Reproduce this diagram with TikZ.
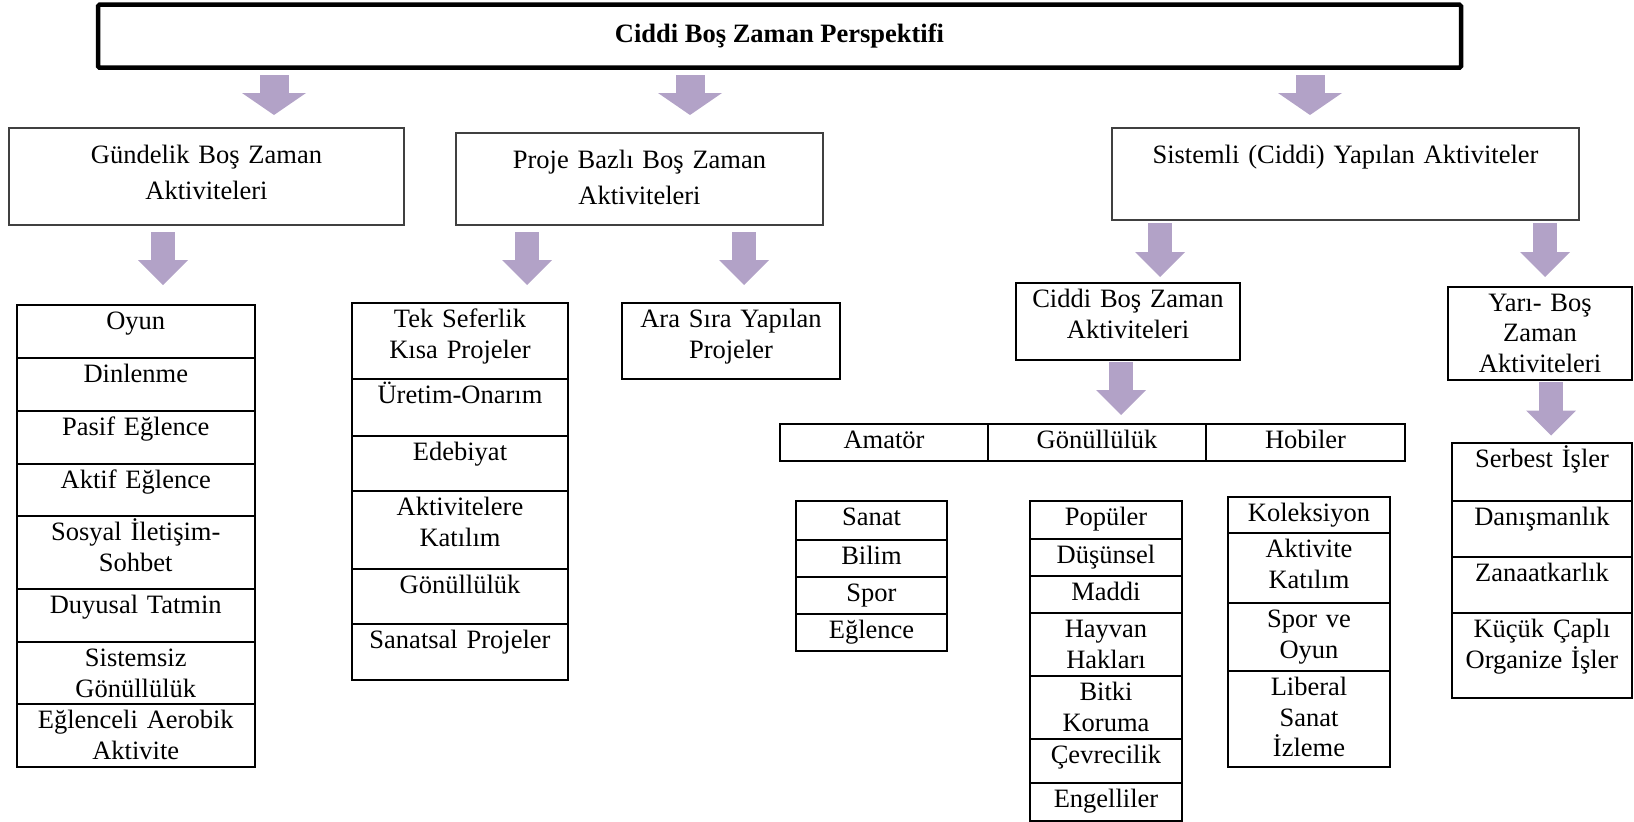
\documentclass[tikz,border=0pt]{standalone}
\usepackage{fontspec}
\setmainfont{Liberation Serif}
\usetikzlibrary{arrows.meta,positioning}
\usepackage{xcolor}
\definecolor{okmor}{RGB}{178,162,199}

\begin{document}
\begin{tikzpicture}[x=1pt, y=-1pt,
        font=\fontsize{26.5}{30.5}\selectfont,
    % ana baslik kutusu
        baslik/.style={rectangle, draw, line width=4.5pt, rounded corners=1.5pt, minimum width=1363pt, minimum height=63pt, anchor=north west, outer sep=0pt, font=\fontsize{26.5}{30.5}\selectfont\bfseries},
    % ikinci seviye kutular (#1 = kutu yuksekligi)
        box/.style={rectangle, draw=black!75, line width=1.2pt, align=center, inner sep=3pt, outer sep=0pt, text height=32pt, text depth={#1-38pt}, anchor=north west, font=\fontsize{26.5}{36}\selectfont},
    % tablo hucreleri (#1 = hucre yuksekligi)
        cell/.style={rectangle, draw, line width=2pt, align=center, inner sep=3pt, outer sep=0pt, text height=21.5pt, text depth={#1-27.5pt}},
    % blok oklar
        bigok/.style={color=okmor, line width=29pt, -{Triangle[length=22pt, width=64pt, line width=0pt]}},
        blokok/.style={color=okmor, line width=24pt, -{Triangle[length=25pt, width=50pt, line width=0pt]}}
    ]
    \useasboundingbox (0,0) rectangle (1634,822);

    % --- UST ---
    \node[baslik] (ana) at (98,4.7) {Ciddi Boş Zaman Perspektifi};

    % --- IKINCI SEVIYE ---
    \node[box=97pt, text width=389pt] (gundelik) at (9,128) {Gündelik Boş Zaman\\Aktiviteleri};
    \node[box=92pt, text width=361pt] (proje) at (456,133) {Proje Bazlı Boş Zaman\\Aktiviteleri};
    \node[box=92pt, text width=461pt] (sistemli) at (1112,128) {Sistemli (Ciddi) Yapılan Aktiviteler};

    \draw[bigok] ([shift={(-505.5,7.3)}]ana.south) -- ++(0,40);
    \draw[bigok] ([shift={(-89.5,7.3)}]ana.south) -- ++(0,40);
    \draw[bigok] ([shift={(530.5,7.3)}]ana.south) -- ++(0,40);

    % --- GUNDELIK LISTESI ---
    \begin{scope}[every node/.append style={text width=231.5pt}]
        \node[cell=53pt, anchor=north west] (g1) at (17,305) {Oyun};
        \node[cell=53pt, below=0pt of g1] (g2) {Dinlenme};
        \node[cell=53pt, below=0pt of g2] (g3) {Pasif Eğlence};
        \node[cell=52pt, below=0pt of g3] (g4) {Aktif Eğlence};
        \node[cell=73pt, below=0pt of g4] (g5) {Sosyal İletişim-\\Sohbet};
        \node[cell=53pt, below=0pt of g5] (g6) {Duyusal Tatmin};
        \node[cell=62pt, below=0pt of g6] (g7) {Sistemsiz\\Gönüllülük};
        \node[cell=63pt, below=0pt of g7] (g8) {Eğlenceli Aerobik\\Aktivite};
    \end{scope}
    \draw[blokok] ([shift={(-43.5,7)}]gundelik.south) -- ++(0,53);

    % --- PROJE LISTESI ---
    \begin{scope}[every node/.append style={text width=210pt}]
        \node[cell=76pt, anchor=north west] (p1) at (352,303) {Tek Seferlik\\Kısa Projeler};
        \node[cell=57pt, below=0pt of p1] (p2) {Üretim-Onarım};
        \node[cell=55pt, below=0pt of p2] (p3) {Edebiyat};
        \node[cell=78pt, below=0pt of p3] (p4) {Aktivitelere\\Katılım};
        \node[cell=55pt, below=0pt of p4] (p5) {Gönüllülük};
        \node[cell=56pt, below=0pt of p5] (p6) {Sanatsal Projeler};
    \end{scope}
    \node[cell=75.5pt, text width=212pt, anchor=north west] (arasira) at (622,303) {Ara Sıra Yapılan\\Projeler};
    \draw[blokok] ([shift={(-112.5,7)}]proje.south) -- ++(0,53);
    \draw[blokok] ([shift={(104.5,7)}]proje.south) -- ++(0,53);

    % --- SISTEMLI ---
    \node[cell=77pt, text width=218pt, anchor=north west] (ciddi) at (1016,283) {Ciddi Boş Zaman\\Aktiviteleri};
    \node[cell=93.5pt, text width=178pt, anchor=north west] (yari) at (1448,286.5) {Yarı- Boş\\Zaman\\Aktiviteleri};
    \draw[blokok] ([shift={(-185.5,3)}]sistemli.south) -- ++(0,54);
    \draw[blokok] ([shift={(199.5,3)}]sistemli.south) -- ++(0,54);

    \node[cell=37pt, text width=202pt, anchor=north west] (amator) at (780,424) {Amatör};
    \node[cell=37pt, text width=212pt, right=0pt of amator] (gonullu) {Gönüllülük};
    \node[cell=37pt, text width=193pt, right=0pt of gonullu] (hobi) {Hobiler};
    \draw[blokok] ([shift={(-7,2)}]ciddi.south) -- ++(0,53);

    \begin{scope}[every node/.append style={text width=145pt}]
        \node[cell=39pt, anchor=north west] (a1) at (796,501) {Sanat};
        \node[cell=37pt, below=0pt of a1] (a2) {Bilim};
        \node[cell=37pt, below=0pt of a2] (a3) {Spor};
        \node[cell=37pt, below=0pt of a3] (a4) {Eğlence};
    \end{scope}

    \begin{scope}[every node/.append style={text width=146pt}]
        \node[cell=38pt, anchor=north west] (v1) at (1030,501) {Popüler};
        \node[cell=37pt, below=0pt of v1] (v2) {Düşünsel};
        \node[cell=37pt, below=0pt of v2] (v3) {Maddi};
        \node[cell=63pt, below=0pt of v3] (v4) {Hayvan\\Hakları};
        \node[cell=63pt, below=0pt of v4] (v5) {Bitki\\Koruma};
        \node[cell=44pt, below=0pt of v5] (v6) {Çevrecilik};
        \node[cell=38pt, below=0pt of v6] (v7) {Engelliler};
    \end{scope}

    \begin{scope}[every node/.append style={text width=156pt}]
        \node[cell=36pt, anchor=north west] (h1) at (1228,497) {Koleksiyon};
        \node[cell=70pt, below=0pt of h1] (h2) {Aktivite\\Katılım};
        \node[cell=68pt, below=0pt of h2] (h3) {Spor ve\\Oyun};
        \node[cell=95.5pt, below=0pt of h3] (h4) {Liberal\\Sanat\\İzleme};
    \end{scope}

    % --- YARI BOS ZAMAN LISTESI ---
    \draw[blokok] ([shift={(11,2)}]yari.south) -- ++(0,53.5);
    \begin{scope}[every node/.append style={text width=174pt}]
        \node[cell=58pt, anchor=north west] (y1) at (1452,442.5) {Serbest İşler};
        \node[cell=56.5pt, below=0pt of y1] (y2) {Danışmanlık};
        \node[cell=56pt, below=0pt of y2] (y3) {Zanaatkarlık};
        \node[cell=85pt, below=0pt of y3] (y4) {Küçük Çaplı\\Organize İşler};
    \end{scope}
\end{tikzpicture}
\end{document}
